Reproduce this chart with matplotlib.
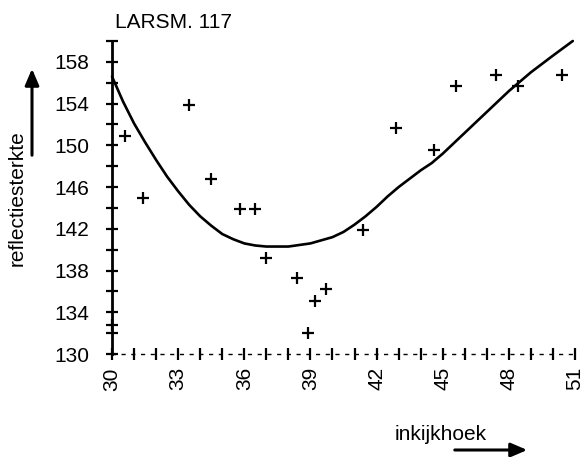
import matplotlib
matplotlib.use("Agg")
import matplotlib.pyplot as plt
from matplotlib.patches import FancyArrowPatch

plt.rcParams['font.family'] = ['Liberation Sans', 'DejaVu Sans']

# measured points (inkijkhoek, reflectiesterkte)
angle = [30.0, 30.6, 31.4, 33.5, 34.5, 35.8, 36.5, 37.0, 38.4, 38.9, 39.2, 39.7,
         41.4, 42.9, 44.6, 45.6, 47.4, 48.4, 50.4]
strength = [132.8, 150.9, 145.0, 153.9, 146.8, 143.9, 143.9, 139.2, 137.3, 132.0,
            135.1, 136.2, 141.9, 151.7, 149.6, 155.7, 156.7, 155.7, 156.7]

# fitted curve
curve_x = [30.0, 30.5, 31.0, 31.5, 32.0, 32.5, 33.0, 33.5, 34.0, 34.5, 35.0, 35.5,
           36.0, 36.5, 37.0, 38.0, 39.0, 39.5, 40.0, 40.5, 41.0, 41.5, 42.0, 42.5,
           43.0, 43.5, 44.0, 44.5, 45.0, 45.5, 46.0, 47.0, 48.0, 49.0, 50.0, 50.9]
curve_y = [156.6, 154.2, 152.1, 150.3, 148.6, 147.0, 145.6, 144.3, 143.2, 142.3,
           141.5, 141.0, 140.6, 140.4, 140.3, 140.3, 140.6, 140.9, 141.2, 141.7,
           142.4, 143.2, 144.1, 145.1, 146.0, 146.8, 147.6, 148.3, 149.2, 150.2,
           151.2, 153.2, 155.2, 157.0, 158.6, 160.0]

x_major = [30, 33, 36, 39, 42, 45, 48, 51]
x_minor = list(range(30, 52))
y_major = [130, 134, 138, 142, 146, 150, 154, 158]
y_minor = [132, 136, 140, 144, 148, 152, 156, 160]

W, H = 585, 457
fig = plt.figure(figsize=(W / 100, H / 100), dpi=100)
L, R, T, B = 112, 575, 41, 354
ax = fig.add_axes([L / W, 1 - B / H, (R - L) / W, (B - T) / H])

ax.plot(curve_x, curve_y, color='black', lw=1.9, solid_capstyle='round',
        solid_joinstyle='round', clip_on=False)
ax.plot(angle, strength, linestyle='none', marker='+', ms=8, mew=1.6,
        color='black', clip_on=False)

ax.set_xlim(30, 51)
ax.set_ylim(130, 160)
ax.set_xticks(x_major)
ax.set_xticks(x_minor, minor=True)
ax.set_yticks(y_major)
ax.set_yticks(y_minor, minor=True)
ax.set_xticklabels([str(v) for v in x_major], rotation=90, fontsize=15)
ax.set_yticklabels([str(v) for v in y_major], fontsize=15)

for s in ['top', 'right']:
    ax.spines[s].set_visible(False)
ax.spines['left'].set_linewidth(2.0)
ax.spines['bottom'].set_linewidth(1.0)
ax.spines['bottom'].set_linestyle((0, (2, 5)))

ax.tick_params(axis='y', which='both', direction='inout', length=9, width=1.6, pad=12)
ax.tick_params(axis='x', which='both', direction='inout', length=9, width=1.6, pad=5)

fig.text(115 / W, 1 - 22 / H, 'LARSM. 117', ha='left', va='center', fontsize=15)
fig.text(17 / W, 1 - 198 / H, 'reflectiesterkte', rotation=90, ha='center',
         va='center', fontsize=15)
fig.text(441 / W, 1 - 435 / H, 'inkijkhoek', ha='center', va='center', fontsize=15)

a1 = FancyArrowPatch((32 / W, 1 - 158 / H), (32 / W, 1 - 66 / H),
                     transform=fig.transFigure, arrowstyle='-|>,head_length=0.7,head_width=0.3',
                     mutation_scale=14, lw=2.2, color='black')
a2 = FancyArrowPatch((452 / W, 1 - 450 / H), (530 / W, 1 - 450 / H),
                     transform=fig.transFigure, arrowstyle='-|>,head_length=0.7,head_width=0.3',
                     mutation_scale=14, lw=2.2, color='black')
fig.patches.extend([a1, a2])

fig.savefig('out.png', dpi=100)
